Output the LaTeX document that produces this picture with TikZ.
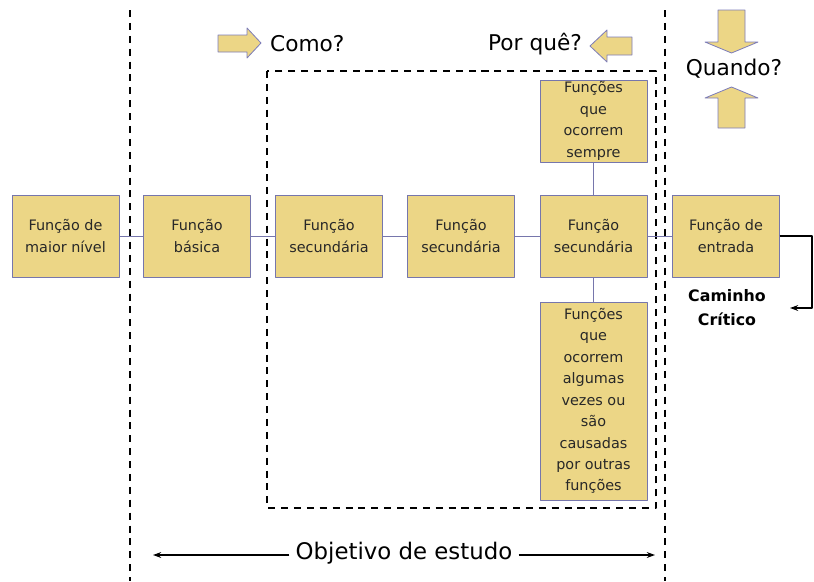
\documentclass[tikz,border=0pt]{standalone}
\usepackage{fontspec}
\usetikzlibrary{arrows.meta}
\setmainfont{DejaVu Sans}
\definecolor{boxfill}{RGB}{236,214,134}
\definecolor{boxline}{RGB}{118,118,172}
\definecolor{arrline}{RGB}{125,125,185}
\definecolor{boxtext}{RGB}{40,40,40}
\begin{document}
\begin{tikzpicture}[x=0.03cm, y=-0.03cm, line join=round, >={Stealth[length=7pt, width=5pt]},
	func/.style={draw=boxline, fill=boxfill, minimum width=3.21cm, minimum height=2.46cm, align=center, inner sep=1pt, text=boxtext, font=\fontsize{12.3}{18.3}\selectfont},
	link/.style={draw=boxline, thin},
	cut/.style={line width=1.3pt, dash pattern=on 6pt off 5pt},
	ask/.style={font=\fontsize{18.5}{22}\selectfont},
	blockarrow/.style={fill=boxfill, draw=arrline, line width=0.7pt}]
	\useasboundingbox (0,0) rectangle (814,581);
	% limites do objetivo de estudo
	\draw[cut] (130,10) -- (130,581);
	\draw[cut] (665,10) -- (665,581);
	\draw[cut] (267,71) rectangle (656,508);
	% funcoes
	\node[func] (maior) at (65.5,236) {Função de\\maior nível};
	\node[func] (basica) at (197,236) {Função\\básica};
	\node[func] (sec1) at (329,236) {Função\\secundária};
	\node[func] (sec2) at (461,236) {Função\\secundária};
	\node[func] (sec3) at (593.5,236) {Função\\secundária};
	\node[func] (entrada) at (726,236) {Função de\\entrada};
	\node[func] (sempre) at (593.5,121) {Funções\\que\\ocorrem\\sempre};
	\node[func, minimum height=5.94cm] (algumas) at (593.5,401) {Funções\\que\\ocorrem\\algumas\\vezes ou\\são\\causadas\\por outras\\funções};
	\draw[link] (maior) -- (basica) -- (sec1) -- (sec2) -- (sec3) -- (entrada);
	\draw[link] (sec3) -- (sempre);
	\draw[link] (sec3) -- (algumas);
	% caminho critico
	\coordinate (fim) at (790,308);
	\draw[->, line width=1pt] (entrada.east) -| (812,308) -- (fim);
	\node[font=\bfseries\fontsize{13.5}{20.5}\selectfont, align=center] (critico) at (727,308) {Caminho\\Crítico};
	% perguntas
	\node[ask, anchor=west] (como) at (266,44) {Como?};
	\node[ask] (porque) at (535,44) {Por quê?};
	\node[ask] (quando) at (734,69) {Quando?};
	\draw[blockarrow] (218,35) -- (247,35) -- (247,28) -- (261,43) -- (247,58) -- (247,52) -- (218,52) -- cycle;
	\draw[blockarrow] (632,37) -- (607,37) -- (607,30) -- (590,46) -- (607,62) -- (607,55) -- (632,55) -- cycle;
	\draw[blockarrow] (718,10) -- (745,10) -- (745,42) -- (758,42) -- (731.5,53) -- (705,42) -- (718,42) -- cycle;
	\draw[blockarrow] (718,128) -- (745,128) -- (745,98) -- (758,98) -- (731.5,87) -- (705,98) -- (718,98) -- cycle;
	% objetivo
	\node[ask, font=\fontsize{19.5}{22}\selectfont, inner sep=1pt] (objetivo) at (404,553) {Objetivo de estudo};
	\coordinate (objL) at (153,555);
	\coordinate (objR) at (655,555);
	\draw[->, line width=1pt] (objetivo.west) ++(-5,2) -- (objL);
	\draw[->, line width=1pt] (objetivo.east) ++(5,2) -- (objR);
\end{tikzpicture}
\end{document}
